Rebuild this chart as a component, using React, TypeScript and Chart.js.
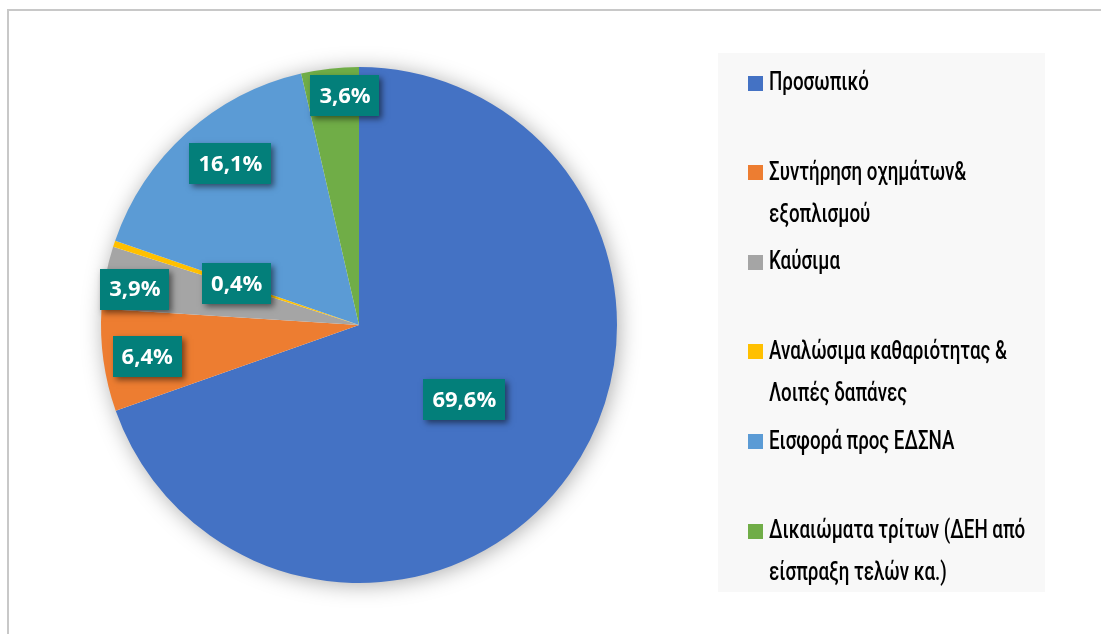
import React, { useEffect, useRef } from "react";
import { Chart, registerables } from "chart.js";

Chart.register(...registerables);

const categories: string[][] = [
  ["Προσωπικό"],
  ["Συντήρηση οχημάτων&", "εξοπλισμού"],
  ["Καύσιμα"],
  ["Αναλώσιμα καθαριότητας &", "Λοιπές δαπάνες"],
  ["Εισφορά προς ΕΔΣΝΑ"],
  ["Δικαιώματα τρίτων (ΔΕΗ από", "είσπραξη τελών κα.)"],
];
const shares: number[] = [69.6, 6.4, 3.9, 0.4, 16.1, 3.6];
const sliceColors: string[] = ["#4472C4", "#ED7D31", "#A5A5A5", "#FFC000", "#5B9BD5", "#70AD47"];
const labelRadiusFactor: number[] = [0.5, 0.83, 0.88, 0.5, 0.8, 0.89];
const labelAngleShiftDeg: number[] = [0, -0.6, -1.5, 0.2, 3.4, 3.0];

const fmt = (v: number) => v.toFixed(1).replace(".", ",") + "%";

const framePlugin = {
  id: "frame",
  beforeDraw(chart: any) {
    const ctx = chart.ctx;
    ctx.save();
    ctx.fillStyle = "#FFFFFF";
    ctx.fillRect(0, 0, chart.width, chart.height);
    ctx.fillStyle = "#C8C8C8";
    ctx.fillRect(7, 9, 2, chart.height - 9);
    ctx.fillRect(7, 9, chart.width - 7, 2);
    ctx.fillStyle = "#F8F8F8";
    ctx.fillRect(718, 53, 327, 539);
    ctx.restore();
  },
};

const pieShadowPlugin = {
  id: "pieShadow",
  beforeDatasetsDraw(chart: any) {
    const meta = chart.getDatasetMeta(0);
    const arc = meta.data[0];
    if (!arc) return;
    const { x, y, outerRadius } = arc.getProps(["x", "y", "outerRadius"], true);
    const ctx = chart.ctx;
    ctx.save();
    ctx.shadowColor = "rgba(0,0,0,0.35)";
    ctx.shadowBlur = 22;
    ctx.shadowOffsetX = 2;
    ctx.shadowOffsetY = 2;
    ctx.fillStyle = "#FFFFFF";
    ctx.beginPath();
    ctx.arc(x, y, outerRadius - 1, 0, Math.PI * 2);
    ctx.fill();
    ctx.restore();
  },
};

const labelPlugin = {
  id: "sliceLabels",
  afterDatasetsDraw(chart: any) {
    const meta = chart.getDatasetMeta(0);
    const ctx = chart.ctx;
    ctx.save();
    ctx.font = "bold 22px 'Open Sans', sans-serif";
    ctx.textAlign = "center";
    ctx.textBaseline = "middle";
    meta.data.forEach((el: any, i: number) => {
      const p = el.getProps(["x", "y", "startAngle", "endAngle", "outerRadius"], true);
      const mid = (p.startAngle + p.endAngle) / 2 + (labelAngleShiftDeg[i] * Math.PI) / 180;
      const r = p.outerRadius * labelRadiusFactor[i];
      const cx = p.x + Math.cos(mid) * r;
      const cy = p.y + Math.sin(mid) * r;
      const text = fmt(shares[i]);
      const w = ctx.measureText(text).width + 18;
      const h = 41;
      ctx.save();
      ctx.shadowColor = "rgba(0,0,0,0.5)";
      ctx.shadowBlur = 6;
      ctx.shadowOffsetX = 3;
      ctx.shadowOffsetY = 3;
      ctx.fillStyle = "#037F7A";
      ctx.fillRect(Math.round(cx - w / 2), Math.round(cy - h / 2), Math.round(w), h);
      ctx.restore();
      ctx.fillStyle = "#FFFFFF";
      ctx.fillText(text, cx, cy + 1);
    });
    ctx.restore();
  },
};

const legendPlugin = {
  id: "sideLegend",
  afterDraw(chart: any) {
    const ctx = chart.ctx;
    ctx.save();
    ctx.font = "500 25px Roboto, sans-serif";
    ctx.textAlign = "left";
    ctx.textBaseline = "middle";
    const refW = ctx.measureText("Αναλώσιμα καθαριότητας &").width;
    const sx = 238 / refW;
    const top = 83;
    const slot = 89.6;
    categories.forEach((lines, i) => {
      const y = top + i * slot;
      ctx.fillStyle = sliceColors[i];
      ctx.fillRect(748, Math.round(y - 7.5), 15, 15);
      ctx.fillStyle = "#000000";
      lines.forEach((ln, j) => {
        ctx.save();
        ctx.translate(769, y + 1 + j * 42);
        ctx.scale(sx, 1);
        ctx.fillText(ln, 0, 0);
        ctx.restore();
      });
    });
    ctx.restore();
  },
};

export default function App() {
  const canvasRef = useRef<HTMLCanvasElement | null>(null);
  useEffect(() => {
    if (!canvasRef.current) return;
    const chart = new Chart(canvasRef.current, {
      type: "pie",
      data: {
        labels: categories.map((c) => c.join(" ")),
        datasets: [
          {
            data: shares,
            backgroundColor: sliceColors,
            borderWidth: 0,
          },
        ],
      },
      options: {
        animation: false,
        responsive: false,
        devicePixelRatio: 1,
        layout: { padding: { left: 101, right: 484, top: 67, bottom: 51 } },
        plugins: {
          legend: { display: false },
          tooltip: { enabled: false },
        },
      },
      plugins: [framePlugin, pieShadowPlugin, labelPlugin, legendPlugin],
    });
    return () => chart.destroy();
  }, []);
  return (
    <div style={{ position: "fixed", left: 0, top: 0, width: 1101, height: 634 }}>
      <canvas ref={canvasRef} width={1101} height={634} style={{ width: 1101, height: 634 }} />
    </div>
  );
}
